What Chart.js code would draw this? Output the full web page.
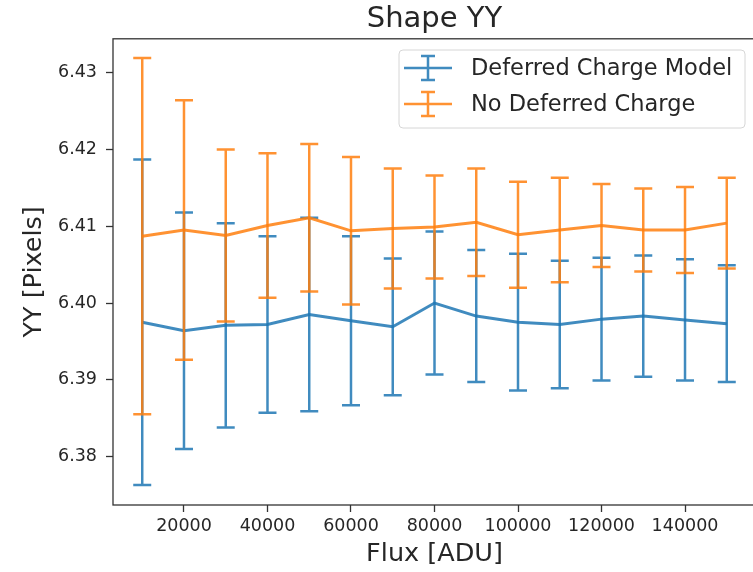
<!DOCTYPE html>
<html>
<head>
<meta charset="utf-8">
<script src="https://cdn.jsdelivr.net/npm/chart.js@4/dist/chart.umd.min.js"></script>
<style>
  html, body { margin: 0; padding: 0; background: #fff; overflow: hidden; }
  #wrap { width: 757px; height: 572px; }
</style>
</head>
<body>
<div id="wrap"><canvas id="shapeChart"></canvas></div>
<script>
// Flux values (ADU)
const fluxValues = [10000, 20000, 30000, 40000, 50000, 60000, 70000, 80000,
                    90000, 100000, 110000, 120000, 130000, 140000, 150000];

// Deferred Charge Model: mean YY and error
const dcmMeans = [6.3975, 6.3964, 6.3971, 6.3972, 6.3985, 6.3977, 6.3969, 6.4000,
                  6.3983, 6.3975, 6.3972, 6.3979, 6.3983, 6.3978, 6.3973];
const dcmErrors = [0.0212, 0.0154, 0.0133, 0.0115, 0.0126, 0.0110, 0.0089, 0.0093,
                   0.0086, 0.0089, 0.0083, 0.0080, 0.0079, 0.0079, 0.0076];

// No Deferred Charge: mean YY and error
const noDcMeans = [6.4087, 6.4095, 6.4088, 6.4101, 6.4111, 6.4094, 6.4097, 6.4099,
                   6.4105, 6.4089, 6.4095, 6.4101, 6.4095, 6.4095, 6.4104];
const noDcErrors = [0.0232, 0.0169, 0.0112, 0.0094, 0.0096, 0.0096, 0.0078, 0.0067,
                    0.0070, 0.0069, 0.0068, 0.0054, 0.0054, 0.0056, 0.0059];

const seriesNames = ['Deferred Charge Model', 'No Deferred Charge'];

// Tick labels
const xTicks = [20000, 40000, 60000, 80000, 100000, 120000, 140000];
const yTicks = [6.38, 6.39, 6.40, 6.41, 6.42, 6.43];

const BLUE = 'rgba(31, 119, 180, 0.85)';
const ORANGE = 'rgba(255, 127, 14, 0.85)';
const TEXT = '#262626';
const FONT = "'DejaVu Sans', 'Liberation Sans', sans-serif";

// Draw vertical error bars with caps right after each dataset line
const errorBarPlugin = {
    id: 'errorBars',
    afterDatasetDraw(chart, args) {
        const ds = chart.data.datasets[args.index];
        if (!ds.errors) return;
        const ctx = chart.ctx;
        const xs = chart.scales.x;
        const ys = chart.scales.y;
        const area = chart.chartArea;
        ctx.save();
        ctx.beginPath();
        ctx.rect(area.left, area.top, area.right - area.left, area.bottom - area.top);
        ctx.clip();
        ctx.strokeStyle = ds.borderColor;
        ctx.lineWidth = 2.5;
        ds.data.forEach((p, i) => {
            const x = xs.getPixelForValue(p.x);
            const top = ys.getPixelForValue(p.y + ds.errors[i]);
            const bot = ys.getPixelForValue(p.y - ds.errors[i]);
            ctx.beginPath();
            ctx.moveTo(x, top);
            ctx.lineTo(x, bot);
            ctx.moveTo(x - 9, top);
            ctx.lineTo(x + 9, top);
            ctx.moveTo(x - 9, bot);
            ctx.lineTo(x + 9, bot);
            ctx.stroke();
        });
        ctx.restore();
    }
};

// Axes frame and legend box inside the plot
const frameLegendPlugin = {
    id: 'frameLegend',
    afterDraw(chart) {
        const ctx = chart.ctx;
        const a = chart.chartArea;
        ctx.save();
        ctx.strokeStyle = '#333';
        ctx.lineWidth = 1.3;
        ctx.strokeRect(a.left, a.top, a.right - a.left, a.bottom - a.top);

        // legend box
        const bx = 399, by = 50, bw = 346, bh = 78;
        ctx.beginPath();
        ctx.roundRect(bx, by, bw, bh, 4);
        ctx.fillStyle = 'rgba(255,255,255,0.8)';
        ctx.fill();
        ctx.strokeStyle = '#d6d6d6';
        ctx.lineWidth = 1;
        ctx.stroke();

        const rows = [
            { name: seriesNames[0], color: BLUE, y: 68 },
            { name: seriesNames[1], color: ORANGE, y: 104 }
        ];
        rows.forEach(r => {
            ctx.strokeStyle = r.color;
            ctx.lineWidth = 2.5;
            ctx.beginPath();
            ctx.moveTo(404, r.y);
            ctx.lineTo(452, r.y);
            ctx.moveTo(428, r.y - 12);
            ctx.lineTo(428, r.y + 12);
            ctx.moveTo(421, r.y - 12);
            ctx.lineTo(435, r.y - 12);
            ctx.moveTo(421, r.y + 12);
            ctx.lineTo(435, r.y + 12);
            ctx.stroke();
            ctx.fillStyle = TEXT;
            ctx.font = '22.5px ' + FONT;
            ctx.textAlign = 'left';
            ctx.textBaseline = 'middle';
            ctx.fillText(r.name, 471, r.y + 1);
        });
        ctx.restore();
    }
};

const ctx = document.getElementById('shapeChart').getContext('2d');
new Chart(ctx, {
    type: 'line',
    data: {
        datasets: [
            {
                label: seriesNames[0],
                data: fluxValues.map((x, i) => ({ x: x, y: dcmMeans[i] })),
                errors: dcmErrors,
                borderColor: BLUE,
                borderWidth: 3,
                pointRadius: 0,
                tension: 0,
                order: 1
            },
            {
                label: seriesNames[1],
                data: fluxValues.map((x, i) => ({ x: x, y: noDcMeans[i] })),
                errors: noDcErrors,
                borderColor: ORANGE,
                borderWidth: 3,
                pointRadius: 0,
                tension: 0,
                order: 0
            }
        ]
    },
    options: {
        responsive: true,
        maintainAspectRatio: false,
        animation: false,
        layout: { padding: { top: 0, left: 0, right: 1, bottom: 0 } },
        plugins: {
            legend: { display: false },
            tooltip: { enabled: false },
            title: {
                display: true,
                text: 'Shape YY',
                fullSize: false,
                color: TEXT,
                font: { family: FONT, size: 29, weight: 'normal' },
                padding: { top: 2, bottom: 2 }
            }
        },
        scales: {
            x: {
                type: 'linear',
                min: 3000,
                max: 157000,
                afterBuildTicks: scale => { scale.ticks = xTicks.map(v => ({ value: v })); },
                afterFit: scale => { scale.height = 67; },
                border: { display: false },
                grid: { drawOnChartArea: false, drawTicks: true, tickLength: 7, tickColor: '#333', tickWidth: 1.3 },
                ticks: {
                    color: TEXT,
                    padding: 4,
                    maxRotation: 0,
                    autoSkip: false,
                    font: { family: FONT, size: 17.5 },
                    callback: v => String(v)
                },
                title: {
                    display: true,
                    text: 'Flux [ADU]',
                    color: TEXT,
                    font: { family: FONT, size: 25.5 },
                    padding: { top: 0, bottom: 2 }
                }
            },
            y: {
                type: 'linear',
                min: 6.3737,
                max: 6.4344,
                afterBuildTicks: scale => { scale.ticks = yTicks.map(v => ({ value: v })); },
                afterFit: scale => { scale.width = 113; },
                border: { display: false },
                grid: { drawOnChartArea: false, drawTicks: true, tickLength: 7, tickColor: '#333', tickWidth: 1.3 },
                ticks: {
                    color: TEXT,
                    padding: 9,
                    autoSkip: false,
                    font: { family: FONT, size: 17.5 },
                    callback: v => v.toFixed(2)
                },
                title: {
                    display: true,
                    text: 'YY [Pixels]',
                    color: TEXT,
                    font: { family: FONT, size: 25.5 },
                    padding: { top: 19, bottom: 0 }
                }
            }
        }
    },
    plugins: [errorBarPlugin, frameLegendPlugin]
});
</script>
</body>
</html>
